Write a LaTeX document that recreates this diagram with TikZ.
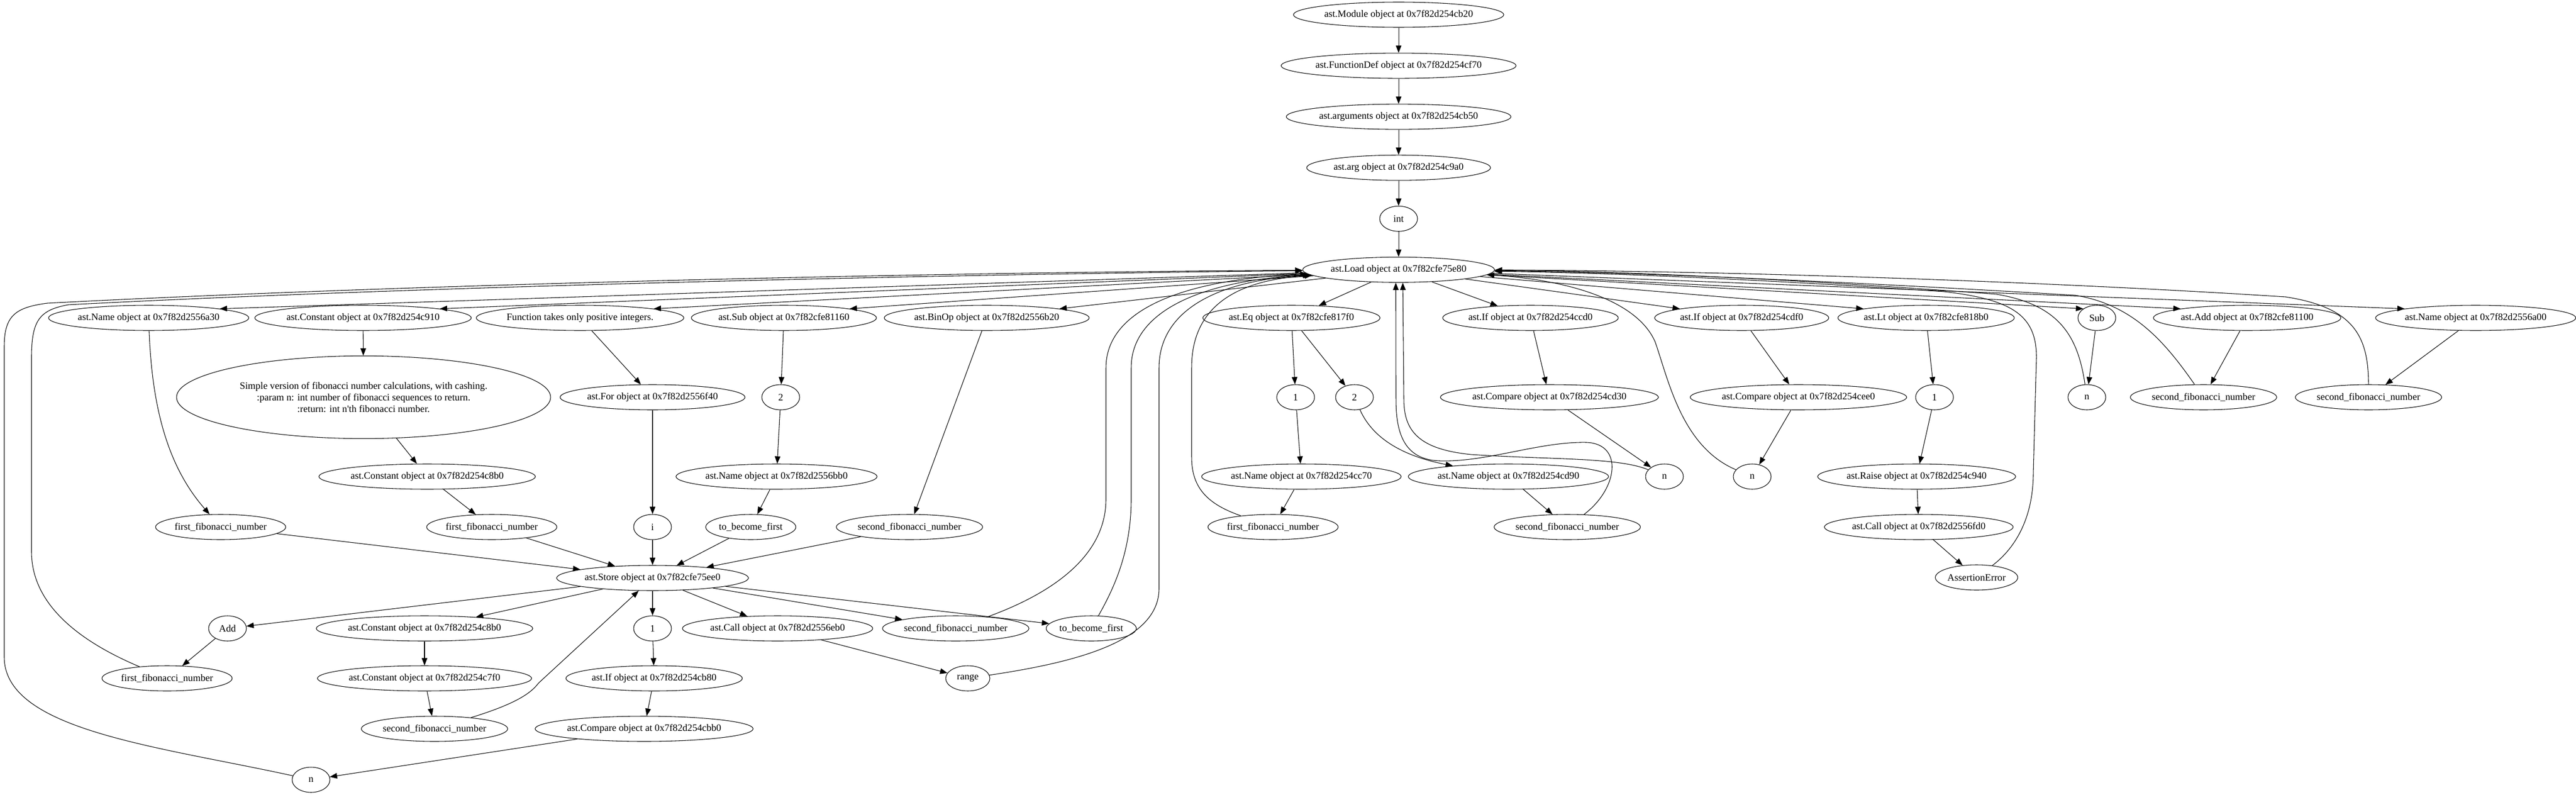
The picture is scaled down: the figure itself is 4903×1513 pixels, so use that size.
\documentclass[tikz,border=0pt]{standalone}
\usepackage{fontspec}
\setmainfont{Liberation Serif}
\usetikzlibrary{shapes.geometric,arrows.meta,positioning}

\begin{document}
\begin{tikzpicture}[x=0.75pt, y=-0.75pt, node distance=36pt, >={Triangle[length=10.5pt, width=8pt]}]
    \tikzset{
        n/.style        =   { ellipse
                            , draw=black
                            , line width=0.8pt
                            , align=center
                            , inner xsep=0pt
                            , inner ysep=0pt
                            , minimum width=54pt
                            , minimum height=36pt
                            , font=\fontsize{14}{16.8}\selectfont
        }
        , arrow/.style  =   { line width=0.8pt
        }
    }
    \useasboundingbox (0,0) rectangle (4903,1513);

    \node(mod)[n] at (2662,28) {ast.Module object at 0x7f82d254cb20};
    \node(fdef)[n, below=of mod] {ast.FunctionDef object at 0x7f82d254cf70};
    \node(args)[n, below=of fdef] {ast.arguments object at 0x7f82d254cb50};
    \node(arg)[n, below=of args] {ast.arg object at 0x7f82d254c9a0};
    \node(int)[n, below=of arg] {int};
    \node(load)[n, below=of int] {ast.Load object at 0x7f82cfe75e80};

    \node(na30)[n] at (283,605) {ast.Name object at 0x7f82d2556a30};
    \node(c910)[n] at (691,605) {ast.Constant object at 0x7f82d254c910};
    \node(ftake)[n] at (1104,605) {Function takes only positive integers.};
    \node(subo)[n] at (1492,605) {ast.Sub object at 0x7f82cfe81160};
    \node(binop)[n] at (1878,605) {ast.BinOp object at 0x7f82d2556b20};
    \node(eq)[n] at (2458,605) {ast.Eq object at 0x7f82cfe817f0};
    \node(ifa)[n] at (2913,605) {ast.If object at 0x7f82d254ccd0};
    \node(ifb)[n] at (3315,605) {ast.If object at 0x7f82d254cdf0};
    \node(lt)[n] at (3666,605) {ast.Lt object at 0x7f82cfe818b0};
    \node(sub)[n] at (3991,605) {Sub};
    \node(addo)[n] at (4277,605) {ast.Add object at 0x7f82cfe81100};
    \node(na00)[n] at (4712,605) {ast.Name object at 0x7f82d2556a00};

    \node(simple)[n, minimum width=534pt, minimum height=118pt] at (692,756) {Simple version of fibonacci number calculations, with cashing.\\:param n: int number of fibonacci sequences to return.\\:return: int n\textquotesingle th fibonacci number.};
    \node(forn)[n] at (1242,756) {ast.For object at 0x7f82d2556f40};
    \node(twoa)[n] at (1486,756) {2};
    \node(oneb)[n] at (2466,756) {1};
    \node(twob)[n] at (2578,756) {2};
    \node(cmpa)[n] at (2949,756) {ast.Compare object at 0x7f82d254cd30};
    \node(cmpb)[n] at (3423,756) {ast.Compare object at 0x7f82d254cee0};
    \node(onec)[n] at (3682,756) {1};
    \node(nsub)[n] at (3972,756) {n};
    \node(sfadd)[n] at (4194,756) {second\_fibonacci\_number};
    \node(sfa00)[n] at (4508,756) {second\_fibonacci\_number};

    \node(c8b0)[n] at (813,907) {ast.Constant object at 0x7f82d254c8b0};
    \node(nbb0)[n] at (1478,907) {ast.Name object at 0x7f82d2556bb0};
    \node(ncc70)[n] at (2477,907) {ast.Name object at 0x7f82d254cc70};
    \node(ncd90)[n] at (2871,907) {ast.Name object at 0x7f82d254cd90};
    \node(na)[n] at (3168,907) {n};
    \node(nb)[n] at (3335,907) {n};
    \node(raise)[n] at (3648,907) {ast.Raise object at 0x7f82d254c940};

    \node(ffa)[n] at (420,1003) {first\_fibonacci\_number};
    \node(ffb)[n] at (936,1003) {first\_fibonacci\_number};
    \node(iv)[n] at (1242,1003) {i};
    \node(tbfa)[n] at (1429,1003) {to\_become\_first};
    \node(sfb)[n] at (1731,1003) {second\_fibonacci\_number};
    \node(ffc)[n] at (2423,1003) {first\_fibonacci\_number};
    \node(sfc)[n] at (2983,1003) {second\_fibonacci\_number};
    \node(callfd0)[n] at (3652,1003) {ast.Call object at 0x7f82d2556fd0};

    \node(store)[n] at (1242,1100) {ast.Store object at 0x7f82cfe75ee0};
    \node(aerr)[n] at (3762,1099) {AssertionError};

    \node(addc)[n] at (433,1196) {Add};
    \node(c8b0b)[n] at (808,1196) {ast.Constant object at 0x7f82d254c8b0};
    \node(oned)[n] at (1242,1196) {1};
    \node(calleb0)[n] at (1480,1196) {ast.Call object at 0x7f82d2556eb0};
    \node(sfd)[n] at (1819,1196) {second\_fibonacci\_number};
    \node(tbfb)[n] at (2077,1196) {to\_become\_first};

    \node(ffd)[n] at (318,1291) {first\_fibonacci\_number};
    \node(c7f0)[n] at (808,1291) {ast.Constant object at 0x7f82d254c7f0};
    \node(ifc)[n] at (1245,1291) {ast.If object at 0x7f82d254cb80};
    \node(range)[n, minimum width=63pt] at (1842,1291) {range};

    \node(sfe)[n] at (827,1387) {second\_fibonacci\_number};
    \node(cmpc)[n] at (1226,1387) {ast.Compare object at 0x7f82d254cbb0};

    \node(nbot)[n] at (592,1484) {n};

    \draw[arrow,->] (mod) -- (fdef);
    \draw[arrow,->] (fdef) -- (args);
    \draw[arrow,->] (args) -- (arg);
    \draw[arrow,->] (arg) -- (int);
    \draw[arrow,->] (int) -- (load);

    \draw[arrow,->] (load) -- (na30.north east);
    \draw[arrow,->] (load) -- (c910.north east);
    \draw[arrow,->] (load) -- (ftake.north east);
    \draw[arrow,->] (load) -- (subo.north east);
    \draw[arrow,->] (load) -- (binop.north east);
    \draw[arrow,->] (load) -- (eq);
    \draw[arrow,->] (load) -- (ifa);
    \draw[arrow,->] (load) -- (ifb.north west);
    \draw[arrow,->] (load) -- (lt.north west);
    \draw[arrow,->] (load) -- (sub.north west);
    \draw[arrow,->] (load) -- (addo.north west);
    \draw[arrow,->] (load) -- (na00.north west);

    \draw[arrow,->] (na30) .. controls (290,800) and (330,900) .. (ffa);
    \draw[arrow,->] (c910) -- (simple);
    \draw[arrow,->] (simple) -- (c8b0);
    \draw[arrow,->] (c8b0) -- (ffb);
    \draw[arrow,->] (ftake) -- (forn);
    \draw[arrow,->] (forn) -- (iv);
    \draw[arrow,->] (subo) -- (twoa);
    \draw[arrow,->] (twoa) -- (nbb0);
    \draw[arrow,->] (nbb0) -- (tbfa);
    \draw[arrow,->] (binop) -- (sfb);

    \draw[arrow,->] (ffa) -- (store);
    \draw[arrow,->] (ffb) -- (store);
    \draw[arrow,->] (iv) -- (store);
    \draw[arrow,->] (tbfa) -- (store);
    \draw[arrow,->] (sfb) -- (store);

    \draw[arrow,->] (store) -- (addc);
    \draw[arrow,->] (store) -- (c8b0b);
    \draw[arrow,->] (store) -- (oned);
    \draw[arrow,->] (store) -- (calleb0);
    \draw[arrow,->] (store) -- (sfd);
    \draw[arrow,->] (store) -- (tbfb);
    \draw[arrow,->] (addc) -- (ffd);
    \draw[arrow,->] (c8b0b) -- (c7f0);
    \draw[arrow,->] (c7f0) -- (sfe);
    \draw[arrow,->] (sfe) .. controls (980,1340) and (1010,1320) .. (1025,1300) -- (store);
    \draw[arrow,->] (oned) -- (ifc);
    \draw[arrow,->] (ifc) -- (cmpc);
    \draw[arrow,->] (cmpc) -- (nbot);
    \draw[arrow,->] (calleb0) -- (range);

    \draw[arrow,->] (eq) -- (oneb);
    \draw[arrow,->] (eq) -- (twob);
    \draw[arrow,->] (oneb) -- (ncc70);
    \draw[arrow,->] (ncc70) -- (ffc);
    \draw[arrow,->] (twob) .. controls (2615,840) and (2680,870) .. (ncd90);
    \draw[arrow,->] (ncd90) -- (sfc);
    \draw[arrow,->] (ifa) -- (cmpa);
    \draw[arrow,->] (cmpa) -- (na);
    \draw[arrow,->] (ifb) -- (cmpb);
    \draw[arrow,->] (cmpb) -- (nb);
    \draw[arrow,->] (lt) -- (onec);
    \draw[arrow,->] (onec) -- (raise);
    \draw[arrow,->] (raise) -- (callfd0);
    \draw[arrow,->] (callfd0) -- (aerr);
    \draw[arrow,->] (sub) -- (nsub);
    \draw[arrow,->] (addo) -- (sfadd);
    \draw[arrow,->] (na00) -- (sfa00);

    \draw[arrow,->] (nbot) .. controls (300,1420) and (8,1390) .. (8,1250) -- (8,660) .. controls (8,600) and (30,585) .. (90,577) .. controls (800,540) and (1800,518) .. (load);
    \draw[arrow,->] (ffd) .. controls (150,1220) and (60,1150) .. (60,1050) -- (60,680) .. controls (60,610) and (75,590) .. (130,580) .. controls (800,545) and (1800,522) .. (load);
    \draw[arrow,->] (sfd) .. controls (2000,1130) and (2105,1060) .. (2105,950) -- (2105,700) .. controls (2105,590) and (2250,532) .. (load);
    \draw[arrow,->] (tbfb) .. controls (2120,1120) and (2153,1050) .. (2153,950) -- (2153,700) .. controls (2153,595) and (2280,535) .. (load);
    \draw[arrow,->] (range) .. controls (2050,1260) and (2206,1220) .. (2206,1120) -- (2206,700) .. controls (2206,600) and (2300,535) .. (load);
    \draw[arrow,->] (ffc) .. controls (2300,960) and (2268,930) .. (2268,870) -- (2268,700) .. controls (2268,600) and (2330,535) .. (load);
    \draw[arrow,->] (sfc) .. controls (3080,930) and (3090,845) .. (3020,842) .. controls (2930,840) and (2830,880) .. (2740,877) .. controls (2670,875) and (2657,820) .. (2657,760) -- ([xshift=-4pt]load.south);
    \draw[arrow,->] (na) .. controls (3080,870) and (2950,875) .. (2800,865) .. controls (2700,855) and (2672,820) .. (2672,760) -- ([xshift=6pt]load.south);
    \draw[arrow,->] (nb) .. controls (3200,850) and (3175,720) .. (3150,650) .. controls (3110,560) and (2950,530) .. (load);
    \draw[arrow,->] (nsub) .. controls (3955,640) and (3920,580) .. (3800,560) .. controls (3400,530) and (3050,515) .. (load);
    \draw[arrow,->] (sfadd) .. controls (4120,650) and (4060,580) .. (3950,562) .. controls (3500,535) and (3100,518) .. (load);
    \draw[arrow,->] (sfa00) .. controls (4508,640) and (4480,585) .. (4350,565) .. controls (3800,530) and (3200,515) .. (load);
    \draw[arrow,->] (aerr) .. controls (3840,1040) and (3870,980) .. (3870,900) -- (3876,680) .. controls (3876,600) and (3830,570) .. (3700,555) .. controls (3400,535) and (3100,520) .. (load);
\end{tikzpicture}
\end{document}
